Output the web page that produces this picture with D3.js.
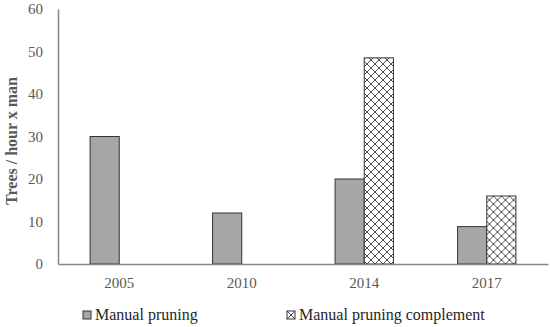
<!DOCTYPE html>
<html>
<head>
<meta charset="utf-8">
<script src="https://cdn.jsdelivr.net/npm/d3@7"></script>
</head>
<body style="margin:0; background:#fff">
<div id="canvas"></div>
<script>
// chart data
const years = ["2005", "2010", "2014", "2017"];
const seriesNames = ["Manual pruning", "Manual pruning complement"];
const manualPruning = [30, 12, 20, 8.8];
const manualComplement = [null, null, 48.5, 16];
const yTicks = [0, 10, 20, 30, 40, 50, 60];

const FONT = "'Liberation Serif', 'Times New Roman', serif";
const width = 550, height = 327;
const margin = { top: 9, left: 58, bottom: 63, right: 2 };

const svg = d3.select("#canvas").append("svg")
  .attr("width", width)
  .attr("height", height);

const defs = svg.append("defs");
const pat = defs.append("pattern")
  .attr("id", "hatch")
  .attr("patternUnits", "userSpaceOnUse")
  .attr("width", 8)
  .attr("height", 8);
pat.append("rect").attr("width", 8).attr("height", 8).attr("fill", "#fff");
pat.append("path")
  .attr("d", "M0,0L8,8M8,0L0,8M-1,7L1,9M7,-1L9,1")
  .attr("stroke", "#4d4d4d")
  .attr("stroke-width", 1);

const fills = ["#a6a6a6", "url(#hatch)"];

const y = d3.scaleLinear()
  .domain([0, 60])
  .range([height - margin.bottom, margin.top]);

const x0 = d3.scaleBand()
  .domain(years)
  .range([margin.left, width - margin.right])
  .padding(0);

const x1 = d3.scaleBand()
  .domain(seriesNames)
  .range([0, x0.bandwidth()])
  .paddingInner(0)
  .paddingOuter(1.1);

const rows = years.map((yr, i) => ({
  year: yr,
  values: [manualPruning[i], manualComplement[i]]
}));

// bars
const groups = svg.append("g").selectAll("g")
  .data(rows)
  .join("g")
  .attr("transform", d => `translate(${x0(d.year)},0)`);

groups.selectAll("rect")
  .data(d => d.values.map((v, j) => ({ key: seriesNames[j], v, j })).filter(d => d.v != null))
  .join("rect")
  .attr("x", d => x1(d.key))
  .attr("y", d => y(d.v))
  .attr("width", x1.bandwidth())
  .attr("height", d => y(0) - y(d.v))
  .attr("fill", d => fills[d.j])
  .attr("stroke", "#333")
  .attr("stroke-width", 1);

// y axis
const yAxis = svg.append("g")
  .attr("transform", `translate(${margin.left},0)`)
  .call(d3.axisLeft(y).tickValues(yTicks).tickSize(0).tickPadding(15));
yAxis.select(".domain").attr("stroke", "#868686").attr("stroke-width", 1.5);
yAxis.selectAll("text")
  .style("font-family", FONT).style("font-size", "15px").attr("fill", "#595959");

// x axis
const xAxis = svg.append("g")
  .attr("transform", `translate(0,${y(0)})`)
  .call(d3.axisBottom(x0).tickSize(0).tickPadding(13));
xAxis.select(".domain").attr("stroke", "#868686").attr("stroke-width", 1.5);
xAxis.selectAll("text")
  .style("font-family", FONT).style("font-size", "15px").attr("fill", "#595959");

// y title
svg.append("text")
  .attr("transform", "translate(17,141) rotate(-90)")
  .attr("text-anchor", "middle")
  .attr("fill", "#595959")
  .style("font-family", FONT)
  .style("font-size", "16px")
  .style("font-weight", "bold")
  .text("Trees / hour x man");

// legend
const legendX = [83, 287];
const legend = svg.append("g").selectAll("g")
  .data(seriesNames)
  .join("g")
  .attr("transform", (d, i) => `translate(${legendX[i]},311)`);
legend.append("rect")
  .attr("width", 8).attr("height", 8)
  .attr("fill", (d, i) => fills[i])
  .attr("stroke", "#333");
legend.append("text")
  .attr("x", 12).attr("y", 9)
  .attr("fill", "#262626")
  .style("font-family", FONT)
  .style("font-size", "16px")
  .text(d => d);
</script>
</body>
</html>
